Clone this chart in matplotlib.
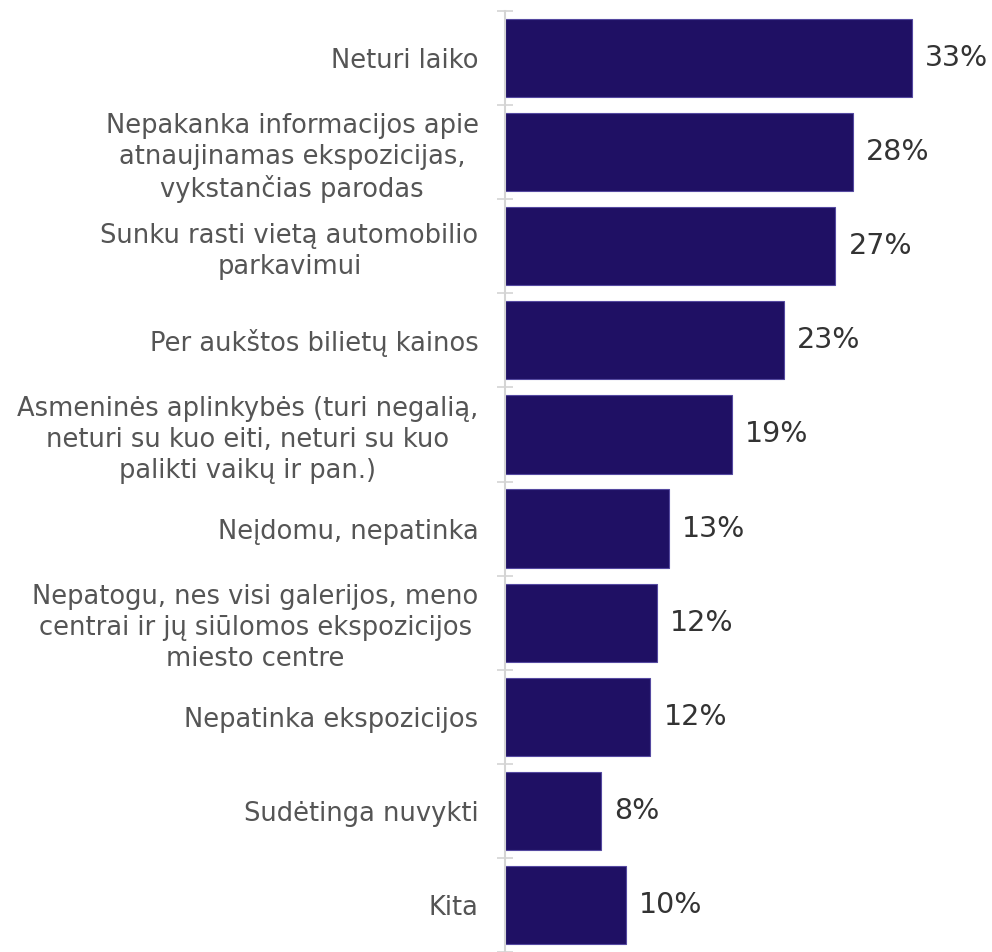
import matplotlib
matplotlib.use("Agg")
import matplotlib.pyplot as plt
import numpy as np

categories = [
    "Neturi laiko",
    "Nepakanka informacijos apie\natnaujinamas ekspozicijas,\nvykstančias parodas",
    "Sunku rasti vietą automobilio\nparkavimui",
    "Per aukštos bilietų kainos",
    "Asmeninės aplinkybės (turi negalią,\nneturi su kuo eiti, neturi su kuo\npalikti vaikų ir pan.)",
    "Neįdomu, nepatinka",
    "Nepatogu, nes visi galerijos, meno\ncentrai ir jų siūlomos ekspozicijos\nmiesto centre",
    "Nepatinka ekspozicijos",
    "Sudėtinga nuvykti",
    "Kita",
]
values = [33.0, 28.2, 26.8, 22.6, 18.4, 13.3, 12.3, 11.8, 7.8, 9.8]
value_labels = ["33%", "28%", "27%", "23%", "19%", "13%", "12%", "12%", "8%", "10%"]

plt.rcParams['font.family'] = ['DejaVu Sans']

W, H = 992, 952
fig = plt.figure(figsize=(W / 100, H / 100), dpi=100)
ax = fig.add_axes([505 / W, 0.0, 1 - 505 / W, 1 - 11 / H])

n = len(categories)
y = np.arange(n)
ax.barh(y, values, height=0.83, color="#1f1064", edgecolor="#5549a0", linewidth=0.8, zorder=2)
ax.set_ylim(n - 0.5, -0.5)
ax.set_xlim(0, 39.5)

for yi, v, lab in zip(y, values, value_labels):
    ax.annotate(lab, (v, yi), xytext=(9.5, 0), textcoords="offset points",
                va="center", ha="left", fontsize=20.5, color="#333333")

ax.set_yticks(y)
ax.set_yticklabels(categories, fontsize=18.5, color="#555555", multialignment="center",
                   linespacing=1.24)
ax.tick_params(axis="y", which="major", direction="in", length=5, width=1.2,
               color="#dddddd", pad=19)
ax.set_yticks(np.arange(n + 1) - 0.5, minor=True)
ax.tick_params(axis="y", which="minor", direction="inout", length=12, width=1.2,
               color="#d4d4d4")
ax.set_xticks([])
for s in ["top", "right", "bottom"]:
    ax.spines[s].set_visible(False)
ax.spines["left"].set_color("#d4d4d4")
ax.spines["left"].set_linewidth(1.5)
ax.spines["left"].set_zorder(3)
for t in ax.yaxis.get_major_ticks():
    t.tick1line.set_zorder(5)

fig.savefig("out.png", dpi=100)
